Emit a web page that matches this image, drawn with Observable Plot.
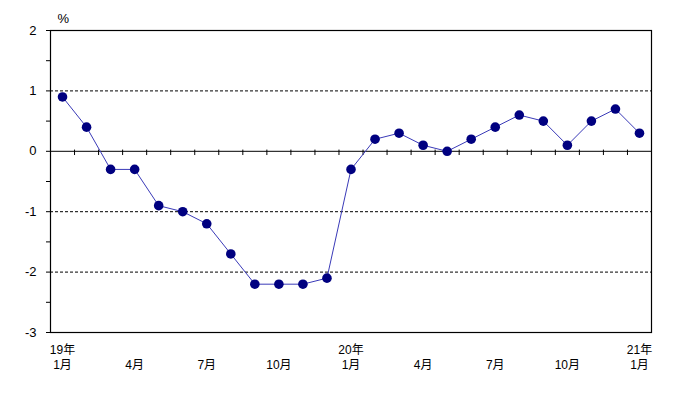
<!DOCTYPE html>
<html>
<head>
<meta charset="utf-8">
<script src="https://cdn.jsdelivr.net/npm/d3@7"></script>
<script src="https://cdn.jsdelivr.net/npm/@observablehq/plot@0.6"></script>
<style>
  html, body { margin: 0; padding: 0; background: #fff; }
  svg { display: block; }
</style>
</head>
<body>
<div id="chart"></div>
<script>
// Monthly values, 2019-01 .. 2021-01 (%)
const months = ["19年1月","2月","3月","4月","5月","6月","7月","8月","9月","10月","11月","12月",
                "20年1月","2月","3月","4月","5月","6月","7月","8月","9月","10月","11月","12月","21年1月"];
const values = [0.9, 0.4, -0.3, -0.3, -0.9, -1.0, -1.2, -1.7, -2.2, -2.2, -2.2, -2.1,
                -0.3, 0.2, 0.3, 0.1, 0.0, 0.2, 0.4, 0.6, 0.5, 0.1, 0.5, 0.7, 0.3];
const tickIndex = [0, 3, 6, 9, 12, 15, 18, 21, 24];
const tickLabels = ["19年\n1月", "\n4月", "\n7月", "\n10月", "20年\n1月", "\n4月", "\n7月", "\n10月", "21年\n1月"];
const yTicks = [-3, -2.5, -2, -1.5, -1, -0.5, 0, 0.5, 1, 1.5, 2];
const dashedLevels = [1, -1, -2];

const data = values.map((v, i) => ({i, month: months[i], value: v}));
const bounds = d3.range(values.length - 1).map(i => i + 0.5);

const chart = Plot.plot({
  width: 679,
  height: 397,
  marginLeft: 50,
  marginRight: 28,
  marginTop: 30,
  marginBottom: 65,
  style: {fontFamily: "'Liberation Sans', 'Noto Sans CJK JP', sans-serif", fontSize: "12px", color: "#000"},
  x: {domain: [-0.5, values.length - 0.5]},
  y: {domain: [-3, 2]},
  marks: [
    Plot.ruleY(dashedLevels, {stroke: "#000", strokeDasharray: "3,2"}),
    Plot.ruleY([0], {stroke: "#000"}),
    Plot.ruleX(bounds, {x: d => d, y1: 0.02, y2: -0.07, stroke: "#000"}),
    Plot.frame({stroke: "#000", strokeWidth: 1.2}),
    Plot.axisY({ticks: yTicks, tickSize: 4, tickPadding: 10,
      tickFormat: d => Number.isInteger(d) ? String(d) : "",
      label: null, fontSize: 13}),
    Plot.axisX({ticks: tickIndex, tickSize: 0, tickPadding: 11,
      tickFormat: (d) => tickLabels[tickIndex.indexOf(d)], label: null, lineHeight: 1.25, fontSize: 12}),
    Plot.line(data, {x: "i", y: "value", stroke: "#3a3ab8", strokeWidth: 1}),
    Plot.dot(data, {x: "i", y: "value", r: 4.8, fill: "#000080", stroke: "none"}),
    Plot.text(["%"], {frameAnchor: "top-left", dx: 7, dy: -17, text: d => d, fontSize: 13})
  ]
});
document.getElementById("chart").append(chart);
</script>
</body>
</html>
